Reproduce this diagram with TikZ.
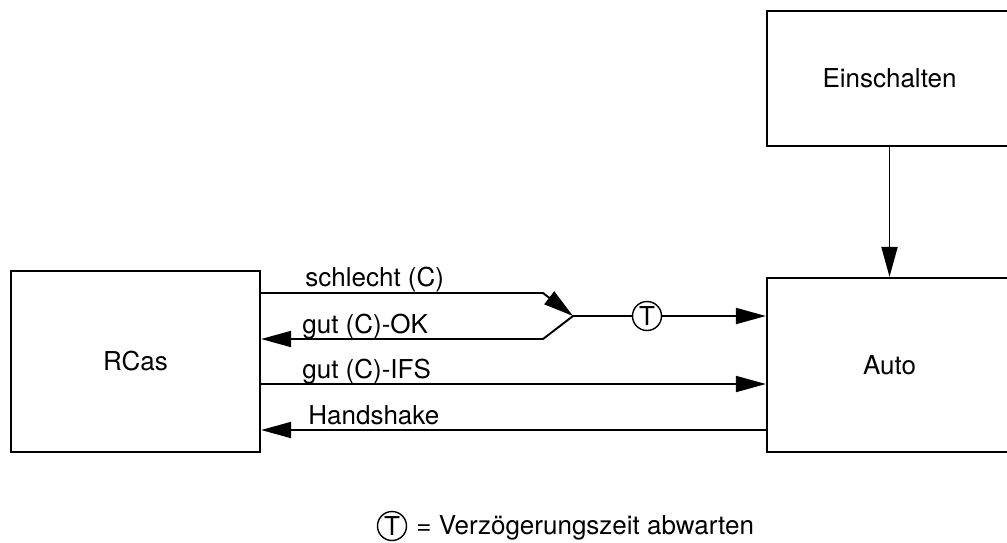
\documentclass[tikz,border=0pt]{standalone}
\usepackage{fontspec}
\setmainfont{TeX Gyre Heros}
\usetikzlibrary{arrows.meta}

\begin{document}
\begin{tikzpicture}[x=0.02cm, y=-0.02cm,
	 every node/.style={font=\fontsize{14.8}{17}\selectfont},
	 statebox/.style={draw, line width=1.3pt, inner sep=0pt},
	 flow/.style={line width=1.1pt, -{Triangle[length=0.6cm 0 0, width=0.32cm 0 0]}},
	 plain/.style={line width=1.1pt},
	 timer/.style={draw, circle, line width=0.8pt, minimum size=0.58cm, inner sep=0pt},
	 sig/.style={anchor=base west, inner sep=0pt}]
	    \useasboundingbox (0,0) rectangle (1007,542);
	    \node (rcas) at (135.5,361.5) [statebox, minimum width=4.98cm, minimum height=3.62cm] {RCas};
	    \node (auto) at (889.5,365) [statebox, minimum width=4.9cm, minimum height=3.48cm] {Auto};
	    \node (ein) at (889.5,78.5) [statebox, minimum width=4.9cm, minimum height=2.7cm] {Einschalten};
	    \draw[flow] (ein.south) -- (auto.north);
	    \coordinate (knot) at (573,316);
	    \coordinate (bad) at (543,293);
	    \coordinate (ok) at (543,339);
	    \draw[flow] (bad -| rcas.east) -- (bad) -- (knot);
	    \draw[flow] (knot) -- (ok) -- (ok -| rcas.east);
	    \node (tmr) at (647,316) [timer] {T};
	    \draw[plain] (knot) -- (tmr);
	    \draw[flow] (tmr) -- (knot -| auto.west);
	    \draw[flow] (rcas.east |- 0,384) -- (auto.west |- 0,384);
	    \draw[flow] (auto.west |- 0,430) -- (rcas.east |- 0,430);
	    \node (lbad) at (305,286) [sig] {schlecht (C)};
	    \node (lok) at (302,333) [sig] {gut (C)-OK};
	    \node (lifs) at (302,378) [sig] {gut (C)-IFS};
	    \node (lhand) at (308,424) [sig] {Handshake};
	    \node (tleg) at (392,526) [timer] {T};
	    \node (legend) at (416,534) [sig] {= Verzögerungszeit abwarten};
	 \end{tikzpicture}
\end{document}
